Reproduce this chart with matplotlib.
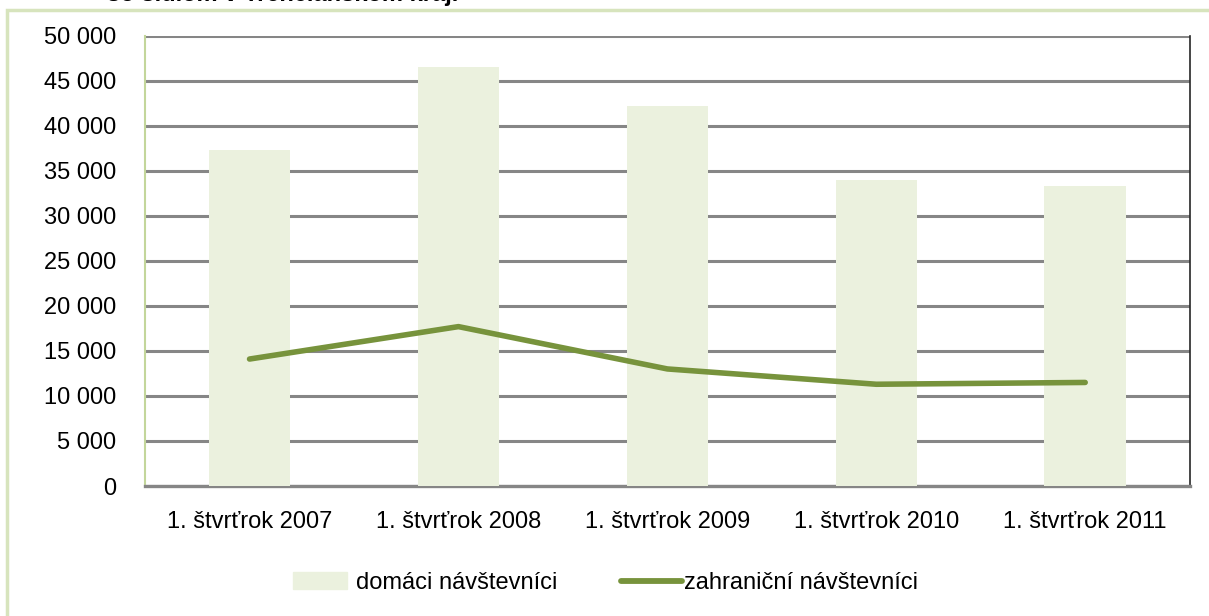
import matplotlib.pyplot as plt
import numpy as np
from matplotlib.patches import Rectangle
from matplotlib.lines import Line2D

# data
categories = ["1. štvrťrok 2007", "1. štvrťrok 2008", "1. štvrťrok 2009",
              "1. štvrťrok 2010", "1. štvrťrok 2011"]
domaci = [37300, 46500, 42200, 34000, 33300]
zahranicni = [14100, 17700, 13000, 11300, 11500]
yticks = [0, 5000, 10000, 15000, 20000, 25000, 30000, 35000, 40000, 45000, 50000]

plt.rcParams['font.family'] = ['Liberation Sans', 'DejaVu Sans']
fs = 17

fig = plt.figure(figsize=(12.09, 6.16), dpi=100)
ax = fig.add_axes([0.12, 0.211, 0.864, 0.731])

# outer frame of the chart object
fig.patches.append(Rectangle((7/1209, -0.05), 1.05, 1 - 10/616 + 0.05,
                             transform=fig.transFigure, fill=False,
                             edgecolor='#d7e4bd', linewidth=2.5))
# clipped caption above the chart
fig.text(107/1209, 1 - 1/616, "so sídlom v Trenčianskom kraji",
         fontsize=fs, fontweight='bold', ha='left', va='baseline')

x = np.arange(len(categories))
ax.bar(x, domaci, width=0.39, color='#ebf1de', zorder=3)
ax.plot(x, zahranicni, color='#77933c', linewidth=4, solid_capstyle='round',
        solid_joinstyle='round', zorder=4)

ax.set_xlim(-0.5, len(categories) - 0.5)
ax.set_ylim(0, 50000)
ax.set_yticks(yticks)
ax.set_yticklabels(['{:,}'.format(v).replace(',', ' ') for v in yticks])
ax.set_xticks(x)
ax.set_xticklabels(categories)
ax.tick_params(axis='both', length=0, labelsize=fs)
ax.tick_params(axis='y', pad=21)
ax.tick_params(axis='x', pad=18)

ax.yaxis.grid(True, color='#868686', linewidth=2.2, zorder=1)
ax.set_axisbelow(True)

ax.spines['left'].set_color('#c3d69b')
ax.spines['left'].set_linewidth(1.5)
ax.spines['right'].set_color('#262626')
ax.spines['right'].set_linewidth(1.2)
ax.spines['bottom'].set_color('#868686')
ax.spines['bottom'].set_linewidth(2.4)
ax.spines['top'].set_visible(False)

# two legend entries placed separately (different gaps in the original)
fig.legend([Rectangle((0, 0), 1, 1, color='#ebf1de')], ['domáci návštevníci'],
           loc='center left', bbox_to_anchor=(293/1209, 1 - 583/616),
           frameon=False, fontsize=fs, handlelength=2.3, handletextpad=0.35,
           borderpad=0, borderaxespad=0)
fig.legend([Line2D([0], [0], color='#77933c', linewidth=4.2, solid_capstyle='round')],
           ['zahraniční návštevníci'],
           loc='center left', bbox_to_anchor=(621/1209, 1 - 583/616),
           frameon=False, fontsize=fs, handlelength=2.6, handletextpad=0.05,
           borderpad=0, borderaxespad=0)

fig.savefig('out.png', dpi=100)
